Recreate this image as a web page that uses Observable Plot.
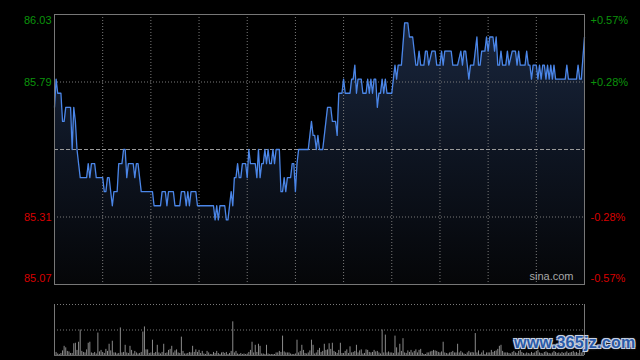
<!DOCTYPE html>
<html><head><meta charset="utf-8">
<script src="https://cdn.jsdelivr.net/npm/d3@7"></script>
<script src="https://cdn.jsdelivr.net/npm/@observablehq/plot@0.6"></script>
<style>
html,body{margin:0;padding:0;background:#000;width:640px;height:360px;overflow:hidden;}
#wrap{position:relative;width:640px;height:360px;background:#000;}
#wm{position:absolute;left:514px;top:334px;font:bold 16px "Liberation Sans",Arial,sans-serif;color:#2a5aa8;letter-spacing:0.3px;
text-shadow:1px 1px 0 #c9d2e2,-1px -1px 0 #c9d2e2,1px -1px 0 #c9d2e2,-1px 1px 0 #c9d2e2,0 0 3px #8893a8;}
</style></head><body><div id="wrap"></div>
<script>
// ---- data ----
const priceMinutes = [0,1,2,4,5,6,7,10,11,12,13,14,15,16,20,21,22,23,25,26,30,31,32,33,34,36,37,39,40,42,43,44,45,46,49,50,51,52,54,61,62,66,67,69,70,71,74,75,78,79,81,82,83,84,85,88,89,99,100,101,102,103,106,107,108,110,111,112,113,114,115,116,117,119,120,121,122,125,126,127,128,129,130,131,132,133,134,135,136,137,138,140,141,142,143,144,145,147,148,149,150,151,152,158,160,161,162,163,164,165,167,170,172,173,175,176,177,179,180,181,184,185,186,187,188,189,191,192,194,195,196,197,198,199,200,201,202,203,204,205,206,207,210,212,213,214,216,218,220,221,223,225,226,227,228,230,231,232,233,235,237,238,240,241,242,243,247,248,251,253,254,255,256,257,258,259,261,263,264,265,266,268,269,270,271,273,274,275,276,277,278,279,281,282,283,285,287,288,289,290,293,294,295,296,297,298,300,301,302,303,304,305,306,307,308,309,310,311,312,318,319,320,325,326,327,328,330];
const priceValues = [85.70,85.80,85.75,85.75,85.65,85.65,85.70,85.70,85.55,85.70,85.65,85.55,85.50,85.45,85.45,85.50,85.45,85.50,85.50,85.45,85.45,85.40,85.40,85.45,85.45,85.35,85.40,85.40,85.50,85.50,85.55,85.55,85.45,85.50,85.50,85.45,85.50,85.50,85.40,85.40,85.35,85.35,85.40,85.40,85.35,85.40,85.40,85.35,85.35,85.40,85.40,85.35,85.40,85.35,85.40,85.40,85.35,85.35,85.30,85.35,85.30,85.35,85.35,85.30,85.30,85.40,85.35,85.45,85.45,85.50,85.45,85.45,85.50,85.50,85.45,85.55,85.50,85.50,85.45,85.55,85.45,85.50,85.50,85.55,85.50,85.55,85.50,85.50,85.55,85.50,85.55,85.55,85.40,85.40,85.45,85.40,85.45,85.45,85.50,85.50,85.40,85.50,85.55,85.55,85.65,85.60,85.60,85.55,85.60,85.55,85.55,85.70,85.70,85.65,85.65,85.60,85.75,85.75,85.80,85.75,85.75,85.80,85.80,85.85,85.75,85.80,85.80,85.75,85.75,85.80,85.75,85.80,85.75,85.80,85.80,85.70,85.75,85.75,85.80,85.75,85.80,85.75,85.75,85.85,85.80,85.85,85.85,86.00,86.00,85.95,85.95,85.85,85.85,85.90,85.85,85.85,85.90,85.90,85.85,85.90,85.90,85.85,85.85,85.90,85.85,85.90,85.90,85.85,85.85,85.90,85.85,85.90,85.90,85.85,85.80,85.85,85.85,85.95,85.85,85.85,85.90,85.90,85.95,85.90,85.95,85.95,85.90,85.95,85.85,85.85,85.90,85.85,85.85,85.90,85.85,85.90,85.90,85.85,85.90,85.85,85.85,85.90,85.85,85.85,85.80,85.85,85.85,85.80,85.85,85.80,85.85,85.85,85.80,85.85,85.80,85.85,85.80,85.85,85.80,85.80,85.85,85.80,85.80,85.85,85.80,85.80,85.95];
// volume per minute (relative units, 0..100 = panel height)
const volumeValues = [
20,6,3,2,4,9,18,15,8,7,4,4,23,24,10,26,50,8,6,5,
11,24,26,5,4,6,3,44,7,10,6,4,12,8,22,9,28,5,5,3,
4,54,5,6,20,5,4,18,10,3,8,5,3,4,6,46,56,11,11,4,
5,30,4,6,20,5,3,6,22,4,5,10,12,18,5,9,11,5,4,36,
8,3,3,4,6,5,18,6,11,6,10,4,8,3,2,8,5,2,2,6,
4,8,4,2,5,6,4,6,2,4,8,66,5,8,3,2,4,2,3,2,
3,6,10,26,5,20,6,22,18,3,3,2,20,3,2,2,2,2,5,5,
8,6,38,7,5,5,5,3,2,2,3,30,5,8,20,10,4,3,5,9,
30,20,3,5,10,14,6,8,22,10,11,23,12,24,8,6,4,10,24,4,
4,8,11,4,17,5,6,8,20,5,9,11,3,4,11,10,6,5,6,10,
7,8,5,3,50,5,40,5,7,5,5,4,38,15,5,22,8,33,5,4,
9,6,10,5,8,11,5,10,12,4,2,2,5,5,7,8,10,9,8,6,
5,7,26,5,4,3,5,6,8,5,5,22,5,8,5,3,2,5,8,5,
6,5,43,5,9,2,5,9,2,5,5,5,10,6,8,9,12,18,20,8,
5,5,5,4,3,6,8,5,4,8,10,6,4,3,5,4,3,6,4,5,
8,10,5,4,3,6,7,5,4,3,5,8,6,4,5,3,6,4,5,7,
4,5,6,8,5,6,4,10,5,8,12];
const timeDomain = [0, 330];
const priceDomain = [85.07, 86.03];
const prevClose = 85.55;
const leftTickValues = [86.03, 85.79, 85.31, 85.07];
const leftTickLabels = ["86.03", "85.79", "85.31", "85.07"];
const rightTickLabels = ["+0.57%", "+0.28%", "-0.28%", "-0.57%"];
const priceGridValues = [85.79, 85.31];
const timeGridMinutes = [30, 60, 90, 120, 150, 180, 210, 240, 270, 300];
const volumeDomain = [0, 100];
const volumeGridValues = [100, 50];
const sourceLabel = ["sina.com"];
const watermark = "www.365jz.com";

// ---- build ----
const priceData = priceMinutes.map((t, i) => ({t, p: priceValues[i]}));
const volData = volumeValues.map((v, t) => ({t, v}));
const tickRows = leftTickValues.map((v, i) => ({v, i, left: leftTickLabels[i], right: rightTickLabels[i]}));
const GREEN = "#0b930b", RED = "#d80000", FONT = "'Liberation Sans', Arial, sans-serif";

function labelMarks(side) {
  const isLeft = side === "left";
  const dys = [6, 0, 0, -6];
  return dys.map((dy, i) => Plot.text(tickRows, {
    filter: d => d.i === i,
    y: "v", text: side,
    frameAnchor: side,
    textAnchor: isLeft ? "end" : "start",
    dx: isLeft ? -3 : 6, dy,
    fill: i < 2 ? GREEN : RED
  }));
}

const pricePlot = Plot.plot({
  width: 640, height: 290,
  marginLeft: 54, marginRight: 56, marginTop: 14, marginBottom: 6,
  style: {background: "#000", fontFamily: FONT, fontSize: "11px", overflow: "visible"},
  x: {domain: timeDomain, axis: null},
  y: {domain: priceDomain, axis: null},
  marks: [
    Plot.areaY(priceData, {x: "t", y1: priceDomain[0], y2: "p", fill: "url(#pgrad)"}),
    Plot.ruleX(timeGridMinutes, {stroke: "#7a7a7a", strokeWidth: 1, strokeDasharray: "1,2"}),
    Plot.ruleY(priceGridValues, {stroke: "#7a7a7a", strokeWidth: 1, strokeDasharray: "1,2"}),
    Plot.ruleY([prevClose], {stroke: "#9a9a9a", strokeWidth: 1, strokeDasharray: "4,2"}),
    Plot.line(priceData, {x: "t", y: "p", stroke: "#4b86e8", strokeWidth: 1.3}),
    Plot.frame({stroke: "#777"}),
    Plot.text(sourceLabel, {text: d => d, frameAnchor: "bottom-right", textAnchor: "end", dx: -11, dy: -5, fill: "#a8a8a8"}),
    ...labelMarks("left"),
    ...labelMarks("right")
  ]
});

// gradient for area fill
const ns = "http://www.w3.org/2000/svg";
const defs = document.createElementNS(ns, "defs");
const grad = document.createElementNS(ns, "linearGradient");
grad.setAttribute("id", "pgrad");
grad.setAttribute("gradientUnits", "userSpaceOnUse");
grad.setAttribute("x1", "0"); grad.setAttribute("x2", "0");
grad.setAttribute("y1", "14"); grad.setAttribute("y2", "284");
[["0", "#1a273f"], ["0.5", "#0e1522"], ["1", "#050608"]].forEach(([o, c]) => {
  const s = document.createElementNS(ns, "stop");
  s.setAttribute("offset", o); s.setAttribute("stop-color", c);
  grad.appendChild(s);
});
defs.appendChild(grad);
pricePlot.insertBefore(defs, pricePlot.firstChild);

const volPlot = Plot.plot({
  width: 640, height: 70,
  marginLeft: 54, marginRight: 56, marginTop: 14, marginBottom: 5,
  style: {background: "#000", fontFamily: FONT, fontSize: "11px"},
  x: {domain: timeDomain, axis: null},
  y: {domain: volumeDomain, axis: null},
  marks: [
    Plot.ruleY(volumeGridValues, {stroke: "#7a7a7a", strokeWidth: 1, strokeDasharray: "1,2"}),
    Plot.ruleX(volData, {x: "t", y1: 0, y2: "v", stroke: "#8a8a8a", strokeWidth: 1}),
    Plot.ruleX(timeDomain, {stroke: "#777", strokeWidth: 1}),
    Plot.ruleY([volumeDomain[0]], {stroke: "#666", strokeWidth: 1})
  ]
});

const wrap = document.getElementById("wrap");
wrap.appendChild(pricePlot);
wrap.appendChild(volPlot);
const wm = document.createElement("div");
wm.id = "wm"; wm.textContent = watermark;
wrap.appendChild(wm);
</script></body></html>
